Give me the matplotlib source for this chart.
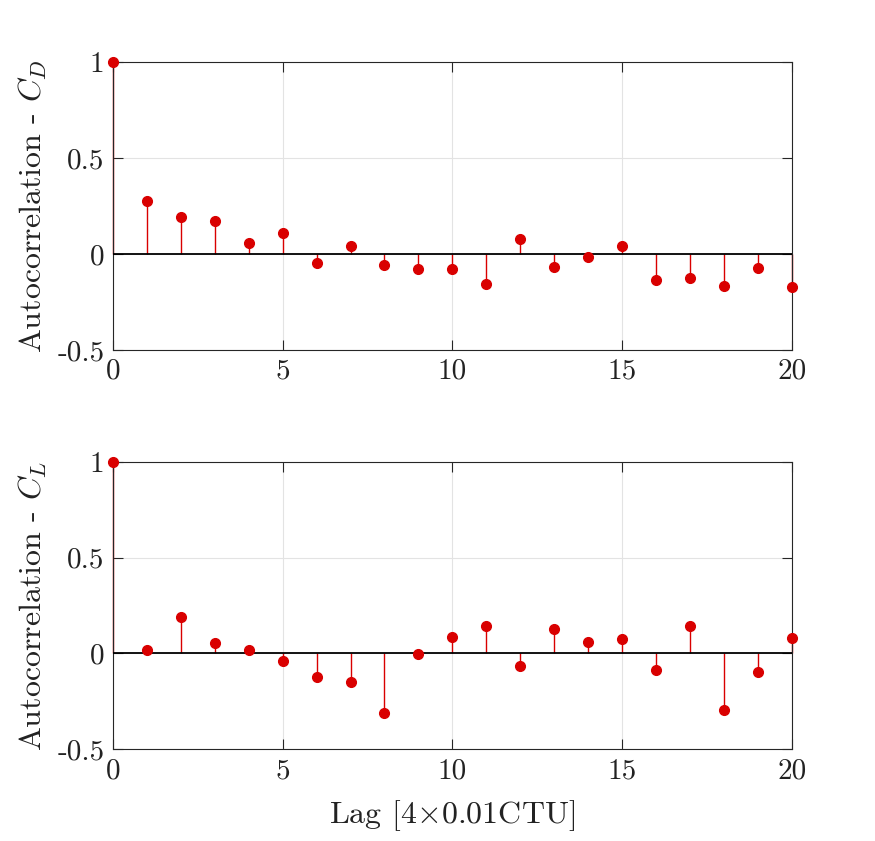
import numpy as np
import matplotlib
matplotlib.use('Agg')
import matplotlib.pyplot as plt

plt.rcParams['font.family'] = ['cmr10', 'DejaVu Serif']
plt.rcParams['mathtext.fontset'] = 'cm'
plt.rcParams['axes.unicode_minus'] = False

lags = list(range(21))

# autocorrelation of drag coefficient
acf_cd = [1.0, 0.277, 0.193, 0.172, 0.057, 0.108, -0.049, 0.042, -0.059, -0.077,
          -0.080, -0.159, 0.080, -0.066, -0.016, 0.040, -0.138, -0.124, -0.167,
          -0.075, -0.172]

# autocorrelation of lift coefficient
acf_cl = [1.0, 0.017, 0.188, 0.054, 0.016, -0.037, -0.122, -0.150, -0.311, -0.003,
          0.087, 0.143, -0.068, 0.125, 0.059, 0.078, -0.085, 0.144, -0.297,
          -0.097, 0.080]

xticks = [0, 5, 10, 15, 20]
yticks = [-0.5, 0, 0.5, 1]
ytick_labels = ['-0.5', '0', '0.5', '1']
ylabels = [r'Autocorrelation - $C_D$', r'Autocorrelation - $C_L$']

red = '#d90000'
axcol = '#262626'

fig = plt.figure(figsize=(8.75, 8.41), dpi=100)
ax1 = fig.add_axes([0.129, 0.584, 0.776, 0.342])
ax2 = fig.add_axes([0.129, 0.109, 0.776, 0.342])

for ax, vals, lab in zip([ax1, ax2], [acf_cd, acf_cl], ylabels):
    ml, sl, bl = ax.stem(lags, vals, basefmt=' ')
    plt.setp(sl, color=red, linewidth=1.0, clip_on=False)
    plt.setp(ml, color=red, markersize=7, markeredgecolor=red, zorder=4, clip_on=False)
    ax.axhline(0, color='black', linewidth=1.3, zorder=3)
    ax.set_xlim(0, 20)
    ax.set_ylim(-0.5, 1)
    ax.set_xticks(xticks)
    ax.set_xticklabels([str(t) for t in xticks])
    ax.set_yticks(yticks)
    ax.set_yticklabels(ytick_labels)
    ax.grid(True, color='#e3e3e3', linewidth=0.8)
    ax.set_axisbelow(True)
    ax.tick_params(direction='in', length=7, width=0.8, top=True, right=True,
                   labelsize=21, colors=axcol, labelcolor='#222222', pad=6)
    for s in ax.spines.values():
        s.set_color(axcol)
        s.set_linewidth(0.8)
    ax.set_ylabel(lab, fontsize=23, color='#222222', labelpad=6)

ax2.set_xlabel(r'Lag [4$\times$0.01CTU]', fontsize=23, color='#222222', labelpad=10)

fig.savefig('out.png', dpi=100)
